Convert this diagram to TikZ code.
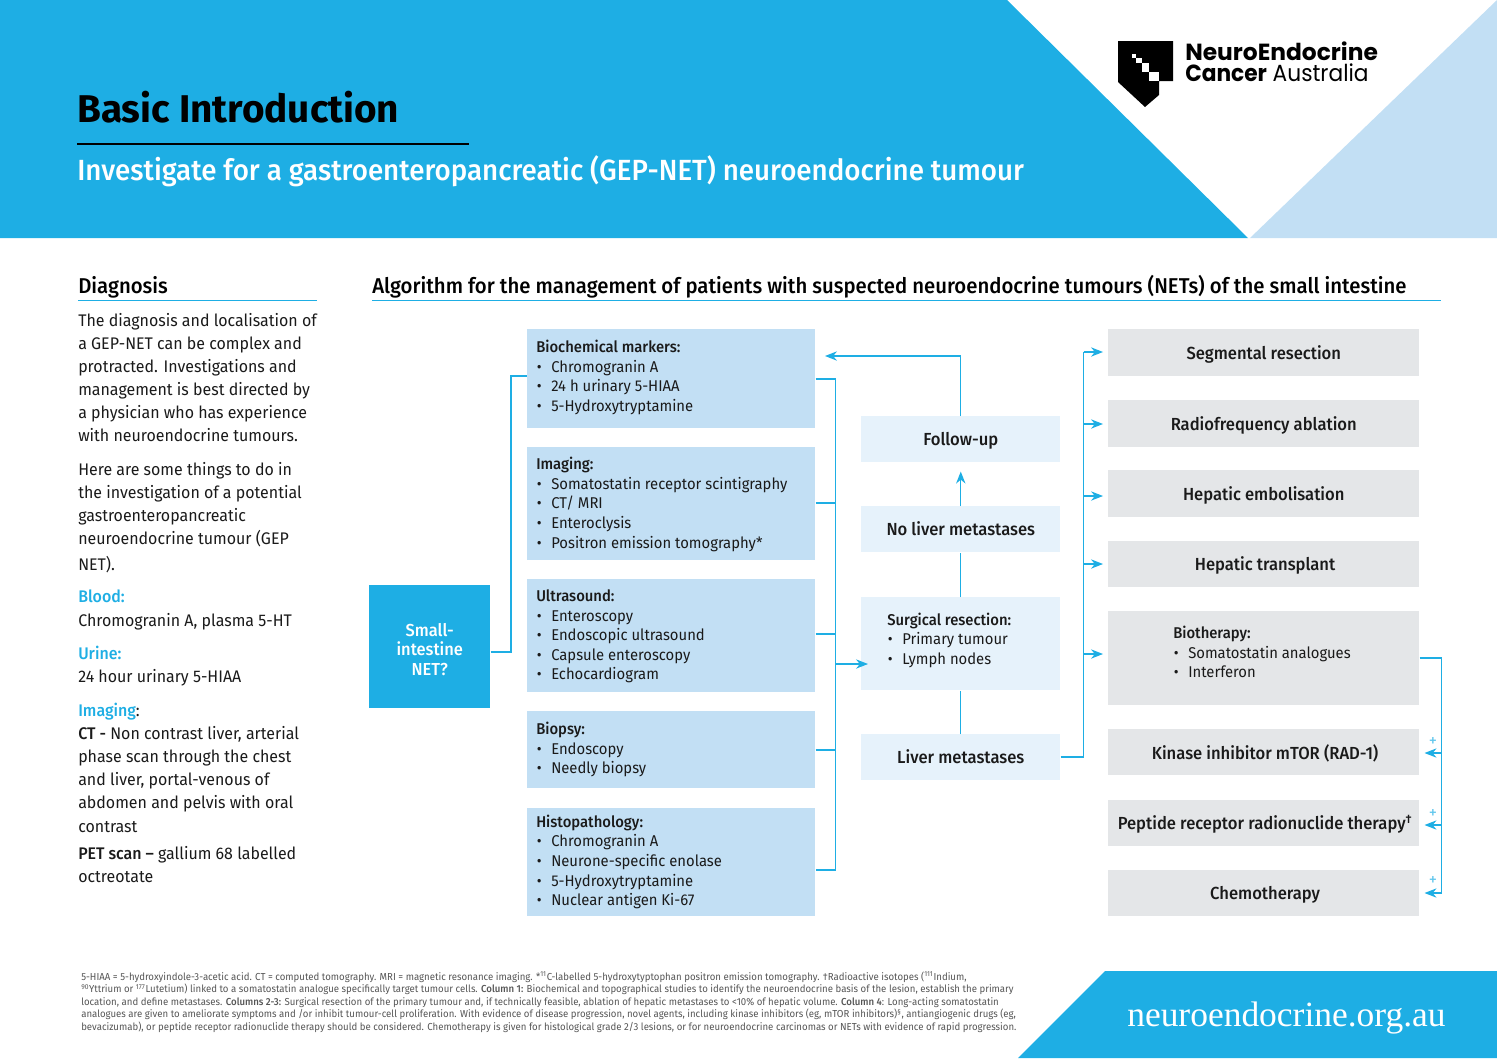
\documentclass[tikz,border=0pt]{standalone}
\usepackage{fontspec}
\setmainfont{Fira Sans}[FakeStretch=0.95,BoldFont={Fira Sans Medium}]
\newfontfamily\titlefont{Fira Sans}
\newfontfamily\logofont{Poppins}
\newfontfamily\logonarrow{Poppins}[FakeStretch=0.93]
\newfontfamily\urlfont{Liberation Serif}
\usetikzlibrary{arrows.meta}
\definecolor{nblue}{HTML}{1EAEE4}
\definecolor{nlight}{HTML}{C2DFF4}
\definecolor{npale}{HTML}{E6F2FB}
\definecolor{ngrey}{HTML}{E4E6E8}
\definecolor{ninkk}{HTML}{1A1A1A}
\definecolor{nfoot}{HTML}{555555}
\newcommand{\fs}[2]{\fontsize{#1}{#2}\selectfont}
\newcommand{\itm}{\makebox[11.25pt][l]{\hspace{0.5pt}•}}
\newcommand{\vp}{\vphantom{Ayg}}
\newcommand{\pbox}[6]{\node[#2,anchor=north west,inner sep=0pt,minimum width={(#5-#3)*0.75pt},minimum height={(#6-#4)*0.75pt}] (#1) at (#3,#4) {};}
\tikzset{
 x=0.75pt,y=-0.75pt,
 lightbox/.style={fill=nlight},
 palebox/.style={fill=npale},
 greybox/.style={fill=ngrey},
 bluebox/.style={fill=nblue},
 conn/.style={draw=nblue,line width=0.9pt},
 arr/.style={conn,-{Stealth[length=9pt,width=7pt]}},
 lab/.style={anchor=north west,inner sep=0pt,align=left,text=ninkk,font=\fs{11.7}{14.7}},
 ctr/.style={anchor=center,inner sep=0pt,yshift=-1pt,align=center,text=ninkk,font=\fs{13.1}{15}\bfseries},
 side/.style={anchor=north west,inner sep=0pt,align=left,text=ninkk,font=\fs{12.6}{17.3}},
 plus/.style={inner sep=0pt,text=nblue!70,font=\fs{13}{13}},
}
\begin{document}
\begin{tikzpicture}
\useasboundingbox (0,0) rectangle (1497,1058);
% banners
\fill[nblue] (0,0) -- (1007,0) -- (1248,238) -- (0,238) -- cycle;
\fill[nlight] (1497,0) -- (1497,238) -- (1250,238) -- cycle;
\fill[nblue] (1105,971) -- (1497,971) -- (1497,1058) -- (1018,1058) -- cycle;
% logo
\fill[black] (1118,41) -- (1173,41) -- (1173,81) -- (1159,81) -- (1159,95) -- (1145,107) -- (1118,82) -- cycle;
\fill[white] (1131.7,54) rectangle (1136,58.3);
\fill[white] (1136,58.3) rectangle (1141.7,63.3);
\fill[white] (1141.7,63.3) rectangle (1149.3,71.7);
\fill[white] (1149.3,71.7) rectangle (1159.3,81);
\node[anchor=west,inner sep=0pt,font=\fs{17.5}{19}\logofont\bfseries] (logoa) at (1185,51) {NeuroEndocrine};
\node[anchor=west,inner sep=0pt,font=\fs{17.5}{19}\logonarrow] (logob) at (1185,73) {\textbf{Cancer} Australia};
% titles
\node[anchor=west,inner sep=0pt,font=\fs{29}{30}\titlefont\bfseries,text=black] (title) at (77,107) {Basic Introduction};
\draw[line width=1.5pt,black] (77,144) -- (469,144);
\node[anchor=west,inner sep=0pt,font=\fs{21.9}{24}\bfseries,text=white] (subtitle) at (77,171) {Investigate for a gastroenteropancreatic (GEP-NET) neuroendocrine tumour};
\node[anchor=west,inner sep=0pt,font=\fs{16.06}{18}\bfseries,text=black] (diag) at (78,287) {Diagnosis};
\draw[conn] (78,300.5) -- (317,300.5);
\node[anchor=west,inner sep=0pt,font=\fs{16.06}{18}\bfseries,text=black] (algo) at (372,287) {Algorithm for the management of patients with suspected neuroendocrine tumours (NETs) of the small intestine};
\draw[conn] (372,300.5) -- (1441,300.5);
% left column
\node[side] (p1) at (78,313) {The diagnosis and localisation of\\a GEP-NET can be complex and\\protracted. Investigations and\\management is best directed by\\a physician who has experience\\with neuroendocrine tumours.};
\node[side] (p2) at (78,462) {Here are some things to do in\\the investigation of a potential\\gastroenteropancreatic\\neuroendocrine tumour (GEP\\[2.2pt]NET).};
\node[side] (p3) at (78,590) {\textcolor{nblue}{\bfseries Blood:}\\Chromogranin A, plasma 5-HT};
\node[side] (p4) at (78,646) {\textcolor{nblue}{\bfseries Urine:}\\24 hour urinary 5-HIAA};
\node[side] (p5) at (78,703) {\textcolor{nblue}{\bfseries Imaging}:\\\textbf{CT -} Non contrast liver, arterial\\phase scan through the chest\\and liver, portal-venous of\\abdomen and pelvis with oral\\contrast};
\node[side] (p6) at (78,846) {\textbf{PET scan –} gallium 68 labelled\\octreotate};
% column 0
\pbox{net}{bluebox}{369}{585}{490}{708}
\node[anchor=center,inner sep=0pt,align=center,text=white,font=\fs{13}{14.7}\bfseries] (nettxt) at ([yshift=-2pt]net.center) {Small-\\intestine\\NET?};
% column 1
\pbox{bio}{lightbox}{527}{329}{815}{428}
\pbox{ima}{lightbox}{527}{447}{815}{560}
\pbox{ult}{lightbox}{527}{579}{815}{692}
\pbox{bip}{lightbox}{527}{711}{815}{788}
\pbox{his}{lightbox}{527}{808}{815}{916}
\node[lab] (biot) at (536,340) {\textbf{Biochemical markers:}\\\itm Chromogranin A\\\itm 24 h urinary 5-HIAA\\\itm 5-Hydroxytryptamine};
\node[lab] (imat) at (536,457) {\textbf{Imaging:}\\\itm Somatostatin receptor scintigraphy\\\itm CT/ MRI\\\itm Enteroclysis\\\itm Positron emission tomography*};
\node[lab] (ultt) at (536,589.5) {\textbf{Ultrasound:}\\\itm Enteroscopy\\\itm Endoscopic ultrasound\\\itm Capsule enteroscopy\\\itm Echocardiogram};
\node[lab] (bipt) at (536,722) {\textbf{Biopsy:}\\\itm Endoscopy\\\itm Needly biopsy};
\node[lab] (hist) at (536,814.5) {\textbf{Histopathology:}\\\itm Chromogranin A\\\itm Neurone-specific enolase\\\itm 5-Hydroxytryptamine\\\itm Nuclear antigen Ki-67};
% column 2
\pbox{fol}{palebox}{861}{416}{1060}{462}
\pbox{nol}{palebox}{861}{506}{1060}{552}
\pbox{sur}{palebox}{861}{597}{1060}{690}
\pbox{liv}{palebox}{861}{734}{1060}{780}
\node[ctr] (folt) at (fol.center) {\vp Follow-up};
\node[ctr] (nolt) at (nol.center) {\vp No liver metastases};
\node[lab] (surt) at (887,612.5) {\textbf{Surgical resection:}\\\itm Primary tumour\\\itm Lymph nodes};
\node[ctr] (livt) at (liv.center) {\vp Liver metastases};
% column 3
\pbox{seg}{greybox}{1108}{329}{1419}{376}
\pbox{rad}{greybox}{1108}{400}{1419}{447}
\pbox{hep}{greybox}{1108}{470}{1419}{517}
\pbox{tra}{greybox}{1108}{541}{1419}{587}
\pbox{bth}{greybox}{1108}{611}{1419}{705}
\pbox{kin}{greybox}{1108}{729}{1419}{775}
\pbox{pep}{greybox}{1108}{800}{1419}{846}
\pbox{che}{greybox}{1108}{870}{1419}{916}
\node[ctr] (segt) at (seg.center) {\vp Segmental resection};
\node[ctr] (radt) at (rad.center) {\vp Radiofrequency ablation};
\node[ctr] (hept) at (hep.center) {\vp Hepatic embolisation};
\node[ctr,xshift=1pt] (trat) at (tra.center) {\vp Hepatic transplant};
\node[lab] (btht) at (1173,626) {\textbf{Biotherapy:}\\\itm Somatostatin analogues\\\itm Interferon};
\node[ctr,xshift=1pt] (kint) at (kin.center) {\vp Kinase inhibitor mTOR (RAD-1)};
\node[ctr,xshift=1pt] (pept) at (pep.center) {\vp Peptide receptor radionuclide therapy\textsuperscript{†}};
\node[ctr,xshift=1pt] (chet) at (che.center) {\vp Chemotherapy};
% connectors: net to column 1
\coordinate (n1) at (511,652);
\draw[conn] (net.east |- n1) -- (n1) -- (511,376) -- (bio.west |- 0,376);
% column 1 to bus
\coordinate (busTop) at (835.5,379);
\coordinate (busBot) at (835.5,870);
\draw[conn] (bio.east |- busTop) -- (busTop) -- (busBot) -- (his.east |- busBot);
\coordinate (b2) at (835.5,503);
\coordinate (b3) at (835.5,634);
\coordinate (b4) at (835.5,750);
\coordinate (b5) at (835.5,664);
\draw[conn] (ima.east |- b2) -- (b2);
\draw[conn] (ult.east |- b3) -- (b3);
\draw[conn] (bip.east |- b4) -- (b4);
\draw[arr,shorten >=-5.25pt] (b5) -- (sur.west |- b5);
% column 2
\coordinate (f1) at (fol.north |- 0,356);
\coordinate (f2) at (825,356);
\draw[arr] (fol.north) -- (f1) -- (f2);
\draw[arr,shorten >=6.75pt] (nol.north) -- (fol.south);
\draw[conn] (sur.north) -- (nol.south);
\draw[conn] (liv.north) -- (sur.south);
% liver to column 3
\coordinate (l1) at (1083.5,757);
\coordinate (l2) at (1083.5,352);
\draw[conn] (liv.east |- l1) -- (l1) -- (l2);
\draw[arr,shorten >=3.75pt] (l2) -- (seg.west |- l2);
\coordinate (l3) at (1083.5,424);
\coordinate (l4) at (1083.5,496);
\coordinate (l5) at (1083.5,564);
\coordinate (l6) at (1083.5,654);
\draw[arr,shorten >=3.75pt] (l3) -- (rad.west |- l3);
\draw[arr,shorten >=3.75pt] (l4) -- (hep.west |- l4);
\draw[arr,shorten >=3.75pt] (l5) -- (tra.west |- l5);
\draw[arr,shorten >=3.75pt] (l6) -- (bth.west |- l6);
% biotherapy bus
\coordinate (r0) at (1441.5,658);
\coordinate (r1) at (1441.5,753);
\coordinate (r2) at (1441.5,825);
\coordinate (r3) at (1441.5,893);
\draw[conn] (bth.east |- r0) -- (r0) -- (r3);
\draw[arr,shorten >=3.75pt] (r1) -- (kin.east |- r1);
\draw[arr,shorten >=3.75pt] (r2) -- (pep.east |- r2);
\draw[arr,shorten >=3.75pt] (r3) -- (che.east |- r3);
\node[plus] (pl1) at (1433,742) {+};
\node[plus] (pl2) at (1433,814) {+};
\node[plus] (pl3) at (1433,881) {+};
% footnote
\node[anchor=north west,inner sep=0pt,align=left,text=nfoot,font=\fs{7.6}{9.4}] (foot) at (81,971.5) {5-HIAA = 5-hydroxyindole-3-acetic acid. CT = computed tomography. MRI = magnetic resonance imaging. *\textsuperscript{11}C-labelled 5-hydroxytyptophan positron emission tomography. †Radioactive isotopes (\textsuperscript{111}Indium,\\\textsuperscript{90}Yttrium or \textsuperscript{177}Lutetium) linked to a somatostatin analogue specifically target tumour cells. \textbf{Column 1:} Biochemical and topographical studies to identify the neuroendocrine basis of the lesion, establish the primary\\location, and define metastases. \textbf{Columns 2-3:} Surgical resection of the primary tumour and, if technically feasible, ablation of hepatic metastases to <10\% of hepatic volume. \textbf{Column 4}: Long-acting somatostatin\\analogues are given to ameliorate symptoms and /or inhibit tumour-cell proliferation. With evidence of disease progression, novel agents, including kinase inhibitors (eg, mTOR inhibitors)\textsuperscript{§}, antiangiogenic drugs (eg,\\bevacizumab), or peptide receptor radionuclide therapy should be considered. Chemotherapy is given for histological grade 2/3 lesions, or for neuroendocrine carcinomas or NETs with evidence of rapid progression.};
\node[anchor=west,inner sep=0pt,font=\fs{26.6}{28}\urlfont,text=white] (url) at (1127,1018) {neuroendocrine.org.au};
\end{tikzpicture}
\end{document}
